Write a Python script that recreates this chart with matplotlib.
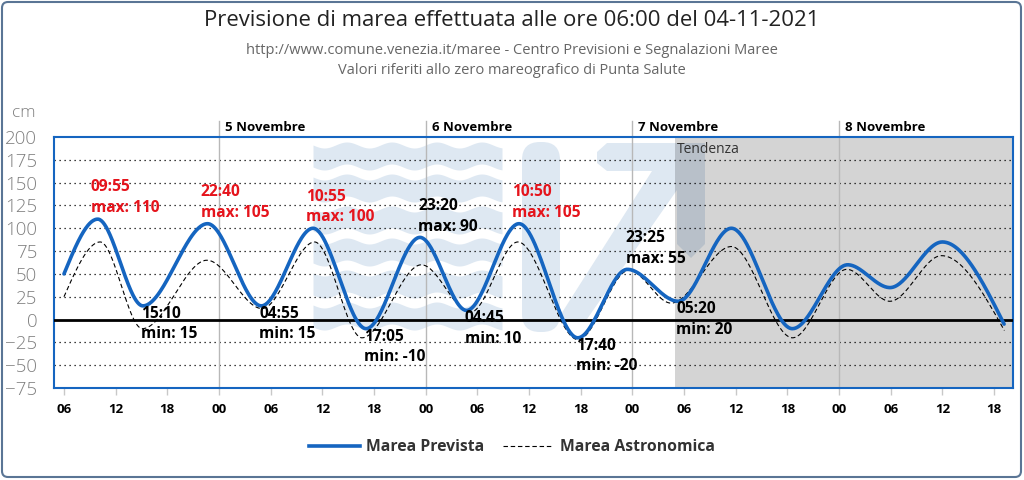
import numpy as np
import matplotlib
matplotlib.use('Agg')
import matplotlib.pyplot as plt
from matplotlib.patches import FancyBboxPatch, Polygon
from matplotlib.lines import Line2D

plt.rcParams['font.family'] = ['Open Sans', 'DejaVu Sans']

# Marea prevista: punti principali (giorno di novembre, ora, valore in cm)
prev_day = [4, 4, 4, 4, 5, 5, 5, 5, 6, 6, 6, 6, 7, 7, 7, 8, 8, 8, 8]
prev_time = ["06:00", "09:55", "15:10", "22:40", "04:55", "10:55", "17:05", "23:20",
             "04:45", "10:50", "17:40", "23:25", "05:20", "11:30", "18:35",
             "01:00", "05:55", "12:00", "19:10"]
prev_val = [50, 110, 15, 105, 15, 100, -10, 90, 10, 105, -20, 55, 20, 100, -10, 60, 35, 85, -5]

# Marea astronomica (ore dalle 00:00 del 4 novembre, cm)
astro_hour = [6, 10.2, 15.1, 22.6, 29.0, 35.1, 40.6, 47.5, 53.2, 58.7, 65.7, 71.6,
              76.5, 83.5, 90.6, 96.9, 101.9, 107.9, 115.2]
astro_val = [25, 85, -10, 65, 12, 85, -20, 60, 8, 85, -22, 54, 18, 80, -20, 55, 20, 70, -12]

# estremi etichettati (indici in prev_*), inizio tendenza
labelled = list(range(1, 13))
tendenza_start = 77.0
day_names = ["5 Novembre", "6 Novembre", "7 Novembre", "8 Novembre"]
tick_hours = list(range(6, 115, 6))


def to_hours(day, hhmm):
    h, m = hhmm.split(":")
    return (day - 4) * 24 + int(h) + int(m) / 60


def smooth(t, v, n=60):
    # curva di Hermite: pendenza nulla negli estremi
    t = np.asarray(t, float)
    v = np.asarray(v, float)
    m = np.zeros_like(v)
    m[0] = 1.5 * (v[1] - v[0]) / (t[1] - t[0])
    m[-1] = 1.5 * (v[-1] - v[-2]) / (t[-1] - t[-2])
    xs, ys = [], []
    for i in range(len(t) - 1):
        h = t[i + 1] - t[i]
        s = np.linspace(0, 1, n)
        h00 = 2 * s**3 - 3 * s**2 + 1
        h10 = s**3 - 2 * s**2 + s
        h01 = -2 * s**3 + 3 * s**2
        h11 = s**3 - s**2
        xs.append(t[i] + s * h)
        ys.append(h00 * v[i] + h10 * h * m[i] + h01 * v[i + 1] + h11 * h * m[i + 1])
    return np.concatenate(xs), np.concatenate(ys)


prev_hour = [to_hours(d, s) for d, s in zip(prev_day, prev_time)]

fig = plt.figure(figsize=(10.24, 4.8), dpi=100)
fig.patch.set_facecolor('white')

# sfondo con logo in filigrana (coordinate in pixel)
bg = fig.add_axes([0, 0, 1, 1], zorder=0)
bg.set_xlim(0, 1024)
bg.set_ylim(480, 0)
bg.axis('off')
wm = '#dee8f2'
xw = np.linspace(313, 502, 300)
for k in range(6):
    top = 145 + k * 32 + 3 * np.sin(2 * np.pi * (xw - 313) / 45)
    bg.fill_between(xw, top, top + 22, color=wm, lw=0)
bg.add_patch(FancyBboxPatch((522, 142), 38, 190, boxstyle="round,pad=0,rounding_size=18",
                            fc=wm, ec='none'))
bg.add_patch(Polygon([(607, 143), (705, 143), (705, 244), (691, 258), (677, 244),
                      (677, 190), (585, 322), (556, 322), (652, 171), (607, 171),
                      (597, 163), (597, 152)],
                     closed=True, fc=wm, ec='none'))
bg.add_patch(FancyBboxPatch((2, 2), 1019, 475, boxstyle="round,pad=0,rounding_size=6",
                            fc='none', ec='#5a7595', lw=1.5))

ax = fig.add_axes([54 / 1024, 92 / 480, 959 / 1024, 251 / 480], zorder=1)
ax.set_facecolor('none')
ax.set_xlim(4.84, 116.2)
ax.set_ylim(-75, 200)

blue = '#1565c0'
red = '#e5141c'

ax.axvspan(tendenza_start, 116.2, color='black', alpha=0.17, lw=0, zorder=1)
ax.text(tendenza_start + 0.2, 186, "Tendenza", fontsize=10, color='#333333', va='center')

for y in range(-50, 200, 25):
    if y != 0:
        ax.axhline(y, color='black', lw=0.9, ls=(0, (1, 3)), zorder=2)
ax.axhline(0, color='black', lw=2, zorder=3)

for i, d in enumerate([24, 48, 72, 96]):
    ax.plot([d, d], [-75, 218], color='#b8b8b8', lw=1, clip_on=False, zorder=2)
    ax.text(d + 0.7, 210, day_names[i], fontsize=9.5, fontweight='bold', va='center')

xa, ya = smooth(astro_hour, astro_val)
ax.plot(xa, ya, color='black', lw=0.8, ls=(0, (4, 2.5)), zorder=4)
xp, yp = smooth(prev_hour, prev_val)
ax.plot(xp, yp, color=blue, lw=2.6, zorder=5, solid_capstyle='round')

# etichette di massimo/minimo (offset in punti)
for i in labelled:
    hour, val, tstr = prev_hour[i], prev_val[i], prev_time[i]
    is_max = prev_val[i] > prev_val[i - 1]
    col = red if (is_max and val >= 100) else 'black'
    if is_max:
        dx = -5 if val >= 100 else -1.2
        lines = [(tstr, 22.8), (f"max: {val}", 7.8)]
    else:
        dx = -1.4
        lines = [(tstr, -5.8), (f"min: {val}", -20.5)]
    for txt, dy in lines:
        ax.annotate(txt, (hour, val), xytext=(dx, dy), textcoords='offset points',
                    ha='left', va='center', color=col, fontsize=11.2,
                    fontweight='bold', zorder=6)

ax.set_yticks(range(-75, 201, 25))
ax.set_xticks(tick_hours)
ax.set_xticklabels([f"{h % 24:02d}" for h in tick_hours])
ax.tick_params(axis='y', length=0, pad=12, labelsize=13.5, labelcolor='#808080')
ax.tick_params(axis='x', length=5, width=1, color='#c8c8c8', pad=6, labelsize=9.5)
for lab in ax.get_xticklabels():
    lab.set_fontweight('bold')
for lab in ax.get_yticklabels():
    lab.set_fontweight('light')
for sp in ax.spines.values():
    sp.set_color(blue)
    sp.set_linewidth(1.5)

fig.text(0.5, 1 - 21 / 480, "Previsione di marea effettuata alle ore 06:00 del 04-11-2021",
         ha='center', va='center', fontsize=15.9, color='#222222')
fig.text(0.5, 1 - 50 / 480, "http://www.comune.venezia.it/maree - Centro Previsioni e Segnalazioni Maree",
         ha='center', va='center', fontsize=10.5, color='#666666')
fig.text(0.5, 1 - 70 / 480, "Valori riferiti allo zero mareografico di Punta Salute",
         ha='center', va='center', fontsize=10.5, color='#666666')
fig.text(12 / 1024, 1 - 113 / 480, "cm", ha='left', va='center', fontsize=12.5,
         color='#808080', fontweight='light')

handles = [Line2D([], [], color=blue, lw=2.6),
           Line2D([], [], color='black', lw=0.8, ls=(0, (4, 2.5)))]
leg = fig.legend(handles, ["Marea Prevista", "Marea Astronomica"], loc='center',
                 bbox_to_anchor=(0.5, 1 - 447 / 480), ncol=2, frameon=False,
                 handlelength=3.2, handletextpad=0.4, columnspacing=1.2,
                 prop={'weight': 'bold', 'size': 11.3})
for t in leg.get_texts():
    t.set_color('#333333')

fig.savefig('out.png', dpi=100)
